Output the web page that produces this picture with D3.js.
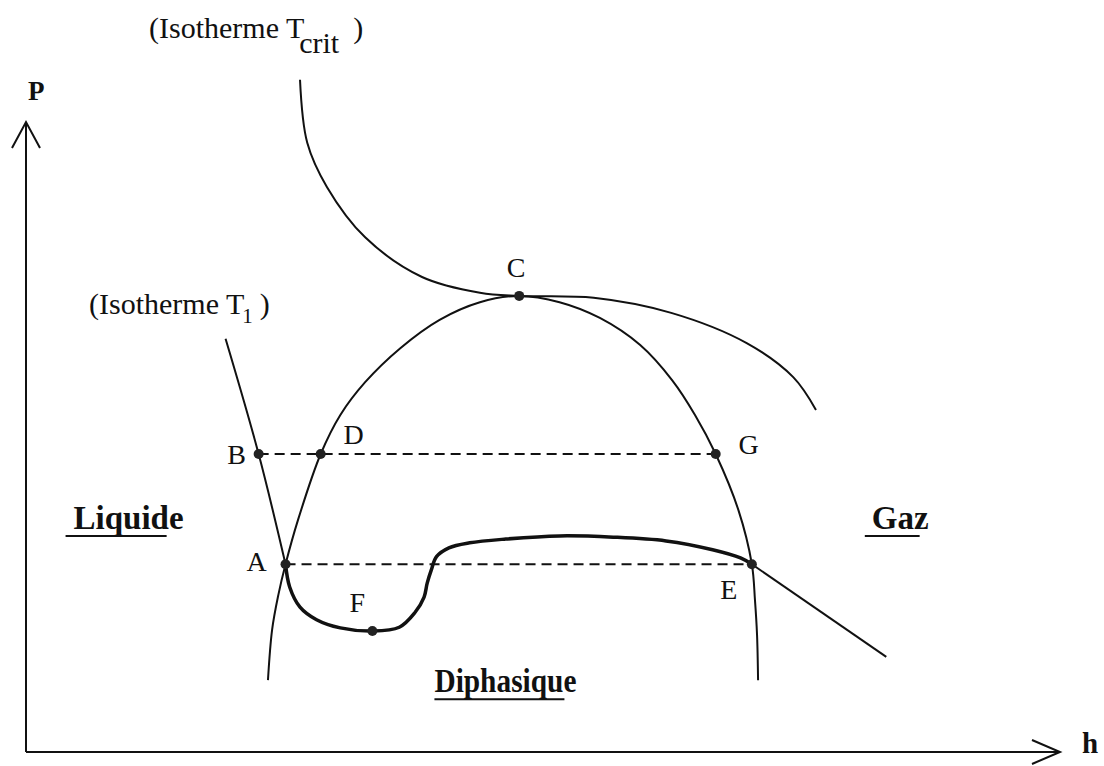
<!DOCTYPE html>
<meta charset="utf-8">
<script src="https://d3js.org/d3.v7.min.js"></script>
<style>
  body { margin: 0; background: #fff; }
  text, tspan { font-family: "Liberation Serif", "Times New Roman", serif; fill: #111; }
</style>
<div id="my_dataviz"></div>
<script>

// curves (h, P in arbitrary units 0..100)
var tCritH = [26.5, 27.2, 29.1, 32.8, 38.3, 43.9, 47.7, 54.9, 62.4, 69.7, 74.2, 76.4];
var tCritP = [106.7, 96.7, 89.7, 81.7, 75.4, 72.9, 72.4, 72.1, 69.7, 64.9, 59.5, 54.3];

var domeH = [23.4, 23.8, 24.4, 25.1, 26.3, 28.5, 30.4, 32.8, 36.2, 40.0, 43.9, 47.7, 51.6, 55.5, 59.4, 62.5, 64.7, 66.7, 68.9, 70.2, 70.5, 70.7, 70.8];
var domeP = [11.4, 19.4, 24.9, 29.8, 36.8, 47.3, 53.5, 58.7, 64.1, 68.6, 71.4, 72.4, 71.4, 68.9, 64.6, 59.0, 53.5, 47.3, 38.4, 29.8, 24.1, 18.6, 11.4];

var liquidH = [19.3, 22.5, 25.1];
var liquidP = [65.6, 47.3, 29.8];

var vdwH = [25.1, 25.5, 26.5, 28.1, 30.4, 33.5, 36.1, 37.6, 38.5, 38.8, 39.2, 39.7, 40.9, 42.9, 46.4, 51.6, 56.8, 61.9, 66.4, 69.1, 70.2];
var vdwP = [29.8, 26.2, 23.0, 21.0, 19.7, 19.2, 19.8, 22.1, 24.6, 26.8, 28.9, 31.0, 32.4, 33.2, 33.8, 34.3, 34.1, 33.5, 32.1, 30.8, 29.8];

var gasH = [70.2, 83.2];
var gasP = [29.8, 15.1];

var pointNames = ["A", "B", "C", "D", "E", "F", "G"];
var pointH = [25.1, 22.5, 47.7, 28.5, 70.2, 33.5, 66.7];
var pointP = [29.8, 47.3, 72.4, 47.3, 29.8, 19.2, 47.3];

// dashed levels: pairs of points
var dashedPairs = [["B", "G"], ["A", "E"]];

var regionNames = ["Liquide", "Diphasique", "Gaz"];

var width = 1104, height = 766;

var svg = d3.select("#my_dataviz")
  .append("svg")
    .attr("width", width)
    .attr("height", height);

var x = d3.scaleLinear().domain([0, 100]).range([26, 1060]);
var y = d3.scaleLinear().domain([0, 100]).range([752, 122]);

function zipPts(hs, ps) { return hs.map(function(h, i) { return [h, ps[i]]; }); }

var line = d3.line()
    .x(function(d) { return x(d[0]); })
    .y(function(d) { return y(d[1]); })
    .curve(d3.curveCatmullRom.alpha(0.5));

// axes with open arrow heads
svg.append("line").attr("x1", x(0)).attr("y1", y(0)).attr("x2", x(0)).attr("y2", y(100))
  .attr("stroke", "#111").attr("stroke-width", 2);
svg.append("line").attr("x1", x(0)).attr("y1", y(0)).attr("x2", x(100)).attr("y2", y(0))
  .attr("stroke", "#111").attr("stroke-width", 2);
svg.append("path")
  .attr("d", "M" + (x(0) - 14) + "," + (y(100) + 26) + "L" + x(0) + "," + y(100) + "L" + (x(0) + 14) + "," + (y(100) + 26))
  .attr("fill", "none").attr("stroke", "#111").attr("stroke-width", 2);
svg.append("path")
  .attr("d", "M" + (x(100) - 28) + "," + (y(0) - 12) + "L" + x(100) + "," + y(0) + "L" + (x(100) - 28) + "," + (y(0) + 12))
  .attr("fill", "none").attr("stroke", "#111").attr("stroke-width", 2);

svg.append("text").attr("x", x(0) + 2).attr("y", y(100) - 22)
  .text("P").style("font-size", "27px").style("font-weight", "bold");
svg.append("text").attr("x", x(100) + 22).attr("y", y(0) + 1)
  .text("h").style("font-size", "29px").style("font-weight", "bold");

// dashed horizontal lines
var ptIdx = {};
pointNames.forEach(function(n, i) { ptIdx[n] = i; });
dashedPairs.forEach(function(p) {
  var a = ptIdx[p[0]], b = ptIdx[p[1]];
  svg.append("line")
    .attr("x1", x(pointH[a])).attr("y1", y(pointP[a]))
    .attr("x2", x(pointH[b])).attr("y2", y(pointP[b]))
    .attr("stroke", "#111").attr("stroke-width", 2)
    .attr("stroke-dasharray", "10,6");
});

// thin curves
[[tCritH, tCritP], [domeH, domeP], [liquidH, liquidP], [gasH, gasP]].forEach(function(c) {
  svg.append("path")
    .attr("d", line(zipPts(c[0], c[1])))
    .attr("fill", "none").attr("stroke", "#111").attr("stroke-width", 2);
});

// bold isotherm inside the dome
svg.append("path")
  .attr("d", line(zipPts(vdwH, vdwP)))
  .attr("fill", "none").attr("stroke", "#111").attr("stroke-width", 3.5);

// points
svg.selectAll("circle.pt")
  .data(pointNames)
  .enter()
  .append("circle")
    .attr("class", "pt")
    .attr("cx", function(d, i) { return x(pointH[i]); })
    .attr("cy", function(d, i) { return y(pointP[i]); })
    .attr("r", 5)
    .style("fill", "#222");

// point labels (offset in px from the point)
var labelOffset = {A: [-29, 7], B: [-22, 10], C: [-3, -19], D: [33, -10], E: [-23, 35], F: [-15, -19], G: [33, 0]};
svg.selectAll("text.pt")
  .data(pointNames)
  .enter()
  .append("text")
    .attr("class", "pt")
    .attr("x", function(d, i) { return x(pointH[i]) + labelOffset[d][0]; })
    .attr("y", function(d, i) { return y(pointP[i]) + labelOffset[d][1]; })
    .attr("text-anchor", "middle")
    .style("font-size", "28px")
    .text(function(d) { return d; });

// isotherm labels
var lab1 = svg.append("text").attr("x", 149).attr("y", 38).style("font-size", "30px");
lab1.append("tspan").text("(Isotherme T");
lab1.append("tspan").attr("dy", 15).attr("dx", -3).text("crit");
lab1.append("tspan").attr("dy", -15).attr("dx", 14).text(")");

var lab2 = svg.append("text").attr("x", 89).attr("y", 314).style("font-size", "30px");
lab2.append("tspan").text("(Isotherme T");
lab2.append("tspan").attr("dy", 9).attr("dx", -2).style("font-size", "21px").text("1");
lab2.append("tspan").attr("dy", -9).attr("dx", 7).text(")");

// region labels, bold and underlined
var regionPos = {Liquide: [4.6, 35.4], Diphasique: [39.5, 9.5], Gaz: [81.8, 35.4]};
var regionUnder = {Liquide: [-8, -17], Diphasique: [0, -12], Gaz: [-7, -9]};
regionNames.forEach(function(n) {
  var t = svg.append("text")
    .attr("x", x(regionPos[n][0]))
    .attr("y", y(regionPos[n][1]))
    .style("font-size", "33px")
    .style("font-weight", "bold")
    .text(n);
  if (n == "Diphasique") t.attr("textLength", 142).attr("lengthAdjust", "spacingAndGlyphs");
  var len = t.node().getComputedTextLength();
  svg.append("line")
    .attr("x1", x(regionPos[n][0]) + regionUnder[n][0])
    .attr("x2", x(regionPos[n][0]) + len + regionUnder[n][1])
    .attr("y1", y(regionPos[n][1]) + 7)
    .attr("y2", y(regionPos[n][1]) + 7)
    .attr("stroke", "#111").attr("stroke-width", 2);
});

</script>
